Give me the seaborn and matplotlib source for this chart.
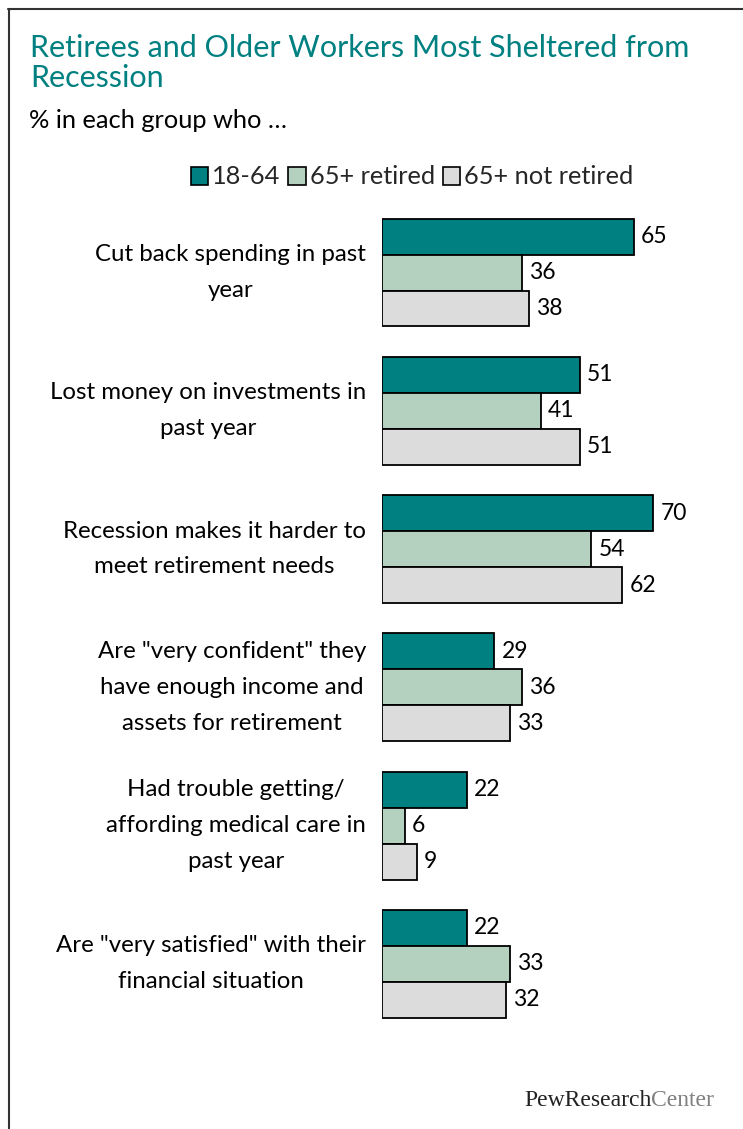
import matplotlib
matplotlib.use("Agg")
import matplotlib.pyplot as plt
import seaborn as sns
import pandas as pd
from matplotlib.lines import Line2D
from matplotlib.patches import Patch

categories = [
    "Cut back spending in past\nyear",
    "Lost money on investments in\npast year",
    "Recession makes it harder to\nmeet retirement needs",
    "Are \"very confident\" they\nhave enough income and\nassets for retirement",
    "Had trouble getting/\naffording medical care in\npast year",
    "Are \"very satisfied\" with their\nfinancial situation",
]
groups = ["18-64", "65+ retired", "65+ not retired"]
vals_18_64 = [65, 51, 70, 29, 22, 22]
vals_65_retired = [36, 41, 54, 36, 6, 33]
vals_65_not_retired = [38, 51, 62, 33, 9, 32]
colors = ["#008080", "#B3D1BE", "#DCDCDC"]

rows = []
for g, vals in zip(groups, [vals_18_64, vals_65_retired, vals_65_not_retired]):
    for c, v in zip(categories, vals):
        rows.append({"cat": c, "group": g, "value": v})
df = pd.DataFrame(rows)

sns.set_theme(style="white")
plt.rcParams["font.family"] = ["Lato", "DejaVu Sans"]

W, H = 743, 1129
fig = plt.figure(figsize=(W / 100, H / 100), dpi=100)
left = 382 / W
right = 700 / W
top = 1 - 203.4 / H
bottom = 1 - 1033 / H
ax = fig.add_axes([left, bottom, right - left, top - bottom])

sns.barplot(data=df, y="cat", x="value", hue="group", order=categories,
            hue_order=groups, palette=colors, orient="h", width=0.78,
            edgecolor="black", linewidth=1.3, legend=False, ax=ax, saturation=1)

ax.set_xlim(0, 82)
ax.set_ylim(5.5, -0.5)
ax.set_xlabel("")
ax.set_ylabel("")
ax.set_xticks([])
ax.set_yticks([])
for s in ax.spines.values():
    s.set_visible(False)

for cont in ax.containers:
    ax.bar_label(cont, labels=[f"{int(v)}" for v in cont.datavalues],
                 padding=5, fontsize=16.5, color="black")

for i, c in enumerate(categories):
    ax.text(-0.05, i, c, transform=ax.get_yaxis_transform(), ha="right",
            va="center", multialignment="center", fontsize=17.3,
            linespacing=1.87, color="black")

teal = "#008080"
fig.text(30 / W, 1 - 63 / H, "Retirees and Older Workers Most Sheltered from\nRecession",
         fontsize=22, color=teal, ha="left", va="center", linespacing=1.12)
fig.text(29 / W, 1 - 120 / H, "% in each group who \u2026", fontsize=18.3,
         color="black", ha="left", va="center")

handles = [Patch(facecolor=col, edgecolor="black", linewidth=1.2) for col in colors]
fig.legend(handles, groups, loc="center", bbox_to_anchor=(412 / W, 1 - 177 / H),
           ncol=3, frameon=False, fontsize=18.3, handlelength=0.7, handleheight=0.7,
           handletextpad=0.15, columnspacing=0.3, borderaxespad=0)

# Logo text
t1 = fig.text(524 / W, 1 - 1100 / H, "PewResearch", fontsize=17, family="Liberation Serif",
              color="#222222", ha="left", va="center")
renderer = fig.canvas.get_renderer()
bb = t1.get_window_extent(renderer=renderer)
fig.text(bb.x1 / W, 1 - 1100 / H, "Center", fontsize=17, family="Liberation Serif",
         color="#808080", ha="left", va="center")

# Frame lines (top and left)
fig.add_artist(Line2D([8 / W, 1], [1 - 8.5 / H, 1 - 8.5 / H], color="#333333", lw=1.5,
                      transform=fig.transFigure))
fig.add_artist(Line2D([8.5 / W, 8.5 / W], [0, 1 - 8.5 / H], color="#333333", lw=1.5,
                      transform=fig.transFigure))

fig.savefig("out.png", dpi=100)
